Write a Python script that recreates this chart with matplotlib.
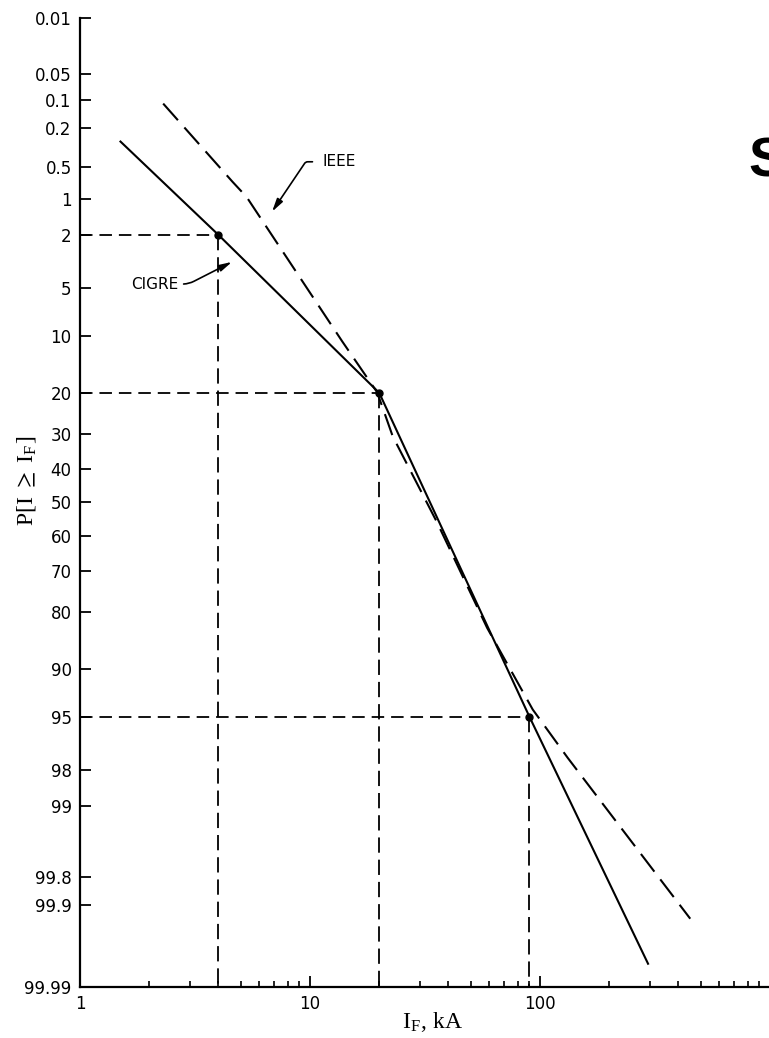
import math
import numpy as np
import matplotlib
matplotlib.use("Agg")
import matplotlib.pyplot as plt

plt.rcParams['lines.scale_dashes'] = False
plt.rcParams['mathtext.fontset'] = 'stix'

# probability axis ticks (percent)
p_ticks = [0.01, 0.05, 0.1, 0.2, 0.5, 1, 2, 5, 10, 20, 30, 40, 50, 60, 70, 80,
           90, 95, 98, 99, 99.8, 99.9, 99.99]
p_labels = ["0.01", "0.05", "0.1", "0.2", "0.5", "1", "2", "5", "10", "20", "30",
            "40", "50", "60", "70", "80", "90", "95", "98", "99", "99.8", "99.9",
            "99.99"]
x_ticks = [1, 10, 100]
x_labels = ["1", "10", "100"]

# CIGRE (solid, piecewise)
cigre_i = [1.5, 4, 20, 90, 295]
cigre_p = [0.28, 2, 20, 95, 99.98]

# marked points with dashed guides
mark_i = [4, 20, 90]
mark_p = [2, 20, 95]

# IEEE (dashed curve)
ieee_i = [2.3, 4.6, 5.3, 13.8, 19.6, 22.9, 35.7, 58.9, 93, 132, 450]
ieee_p = [0.11, 0.69, 0.95, 10.8, 19.9, 30.6, 56.1, 83.2, 94.4, 97.5, 99.93]

# normal probability scale helpers (percent in, z out)
_a = [-3.969683028665376e+01, 2.209460984245205e+02, -2.759285104469687e+02,
      1.383577518672690e+02, -3.066479806614716e+01, 2.506628277459239e+00]
_b = [-5.447609879822406e+01, 1.615858368580409e+02, -1.556989798598866e+02,
      6.680131188771972e+01, -1.328068155288572e+01, 1.0]
_c = [-7.784894002430293e-03, -3.223964580411365e-01, -2.400758277161838e+00,
      -2.549671602506902e+00, 4.374664141464968e+00, 2.938163982698783e+00]
_d = [7.784695709041462e-03, 3.224671290700398e-01, 2.445134137142996e+00,
      3.754408661907416e+00, 1.0]


def pct_to_z(p):
    q = np.clip(np.asarray(p, dtype=float) / 100.0, 1e-12, 1 - 1e-12)
    lo = np.sqrt(-2 * np.log(q))
    hi = np.sqrt(-2 * np.log(1 - q))
    r = (q - 0.5) ** 2
    z_lo = np.polyval(_c, lo) / np.polyval(_d, lo)
    z_hi = -np.polyval(_c, hi) / np.polyval(_d, hi)
    z_mid = np.polyval(_a, r) * (q - 0.5) / np.polyval(_b, r)
    return np.where(q < 0.02425, z_lo, np.where(q > 1 - 0.02425, z_hi, z_mid))


_erf = np.vectorize(math.erf)


def z_to_pct(z):
    z = np.asarray(z, dtype=float)
    return 100 * 0.5 * (1 + _erf(z / math.sqrt(2)))


fig = plt.figure(figsize=(7.69, 10.38), dpi=100)
ax = fig.add_axes([0.104, 0.0491, 0.8973, 0.9336])
ax.set_xscale('log')
ax.set_yscale('function', functions=(pct_to_z, z_to_pct))
ax.set_xlim(1, 1000)
ax.set_ylim(99.99, 0.01)

# guides
for xi, pi in zip(mark_i, mark_p):
    ax.plot([1, xi], [pi, pi], color='black', lw=1.3, dashes=(9, 5))
    ax.plot([xi, xi], [pi, 99.99], color='black', lw=1.3, dashes=(11, 5))

ax.plot(ieee_i, ieee_p, color='black', lw=1.5, dashes=(16, 7))
ax.plot(cigre_i, cigre_p, color='black', lw=1.5)
ax.plot(mark_i, mark_p, 'o', color='black', ms=5)

ax.annotate("IEEE", xy=(6.84, 1.28), xytext=(11.3, 0.446), fontsize=11,
            ha='left', va='center',
            arrowprops=dict(arrowstyle='-|>,head_length=0.7,head_width=0.18',
                            color='black', lw=1.2, relpos=(0, 0.5),
                            shrinkA=5, shrinkB=0,
                            connectionstyle='angle,angleA=0,angleB=56,rad=2'))
ax.annotate("CIGRE", xy=(4.58, 3.24), xytext=(2.67, 4.68), fontsize=11,
            ha='right', va='center',
            arrowprops=dict(arrowstyle='-|>,head_length=0.7,head_width=0.18',
                            color='black', lw=1.2, relpos=(1, 0.5),
                            shrinkA=2, shrinkB=0,
                            connectionstyle='angle,angleA=0,angleB=27,rad=6'))

ax.set_yticks(p_ticks)
ax.set_yticklabels(p_labels)
ax.yaxis.set_minor_locator(matplotlib.ticker.NullLocator())
ax.set_xticks(x_ticks)
ax.set_xticklabels(x_labels)
ax.xaxis.set_minor_formatter(matplotlib.ticker.NullFormatter())

ax.tick_params(axis='y', direction='in', length=8, width=1.3, labelsize=12, pad=6)
ax.tick_params(axis='x', which='major', direction='in', length=8, width=1.3,
               labelsize=12, pad=6)
ax.tick_params(axis='x', which='minor', direction='in', length=4, width=1.2)

for s in ['top', 'right']:
    ax.spines[s].set_visible(False)
for s in ['left', 'bottom']:
    ax.spines[s].set_linewidth(1.6)

fig.text(0.562, 0.0154, r"I$_\mathregular{F}$, kA", family='Liberation Serif',
         fontsize=17, ha='center', va='center')
fig.text(0.035, 0.5366, r"P[I $\geq$ I$_\mathregular{F}$]", family='Liberation Serif',
         fontsize=17, ha='center', va='center', rotation=90)
fig.text(0.973, 0.843, "S", family='Liberation Sans', weight='bold', fontsize=40,
         ha='left', va='center')

fig.savefig("out.png", dpi=100)
